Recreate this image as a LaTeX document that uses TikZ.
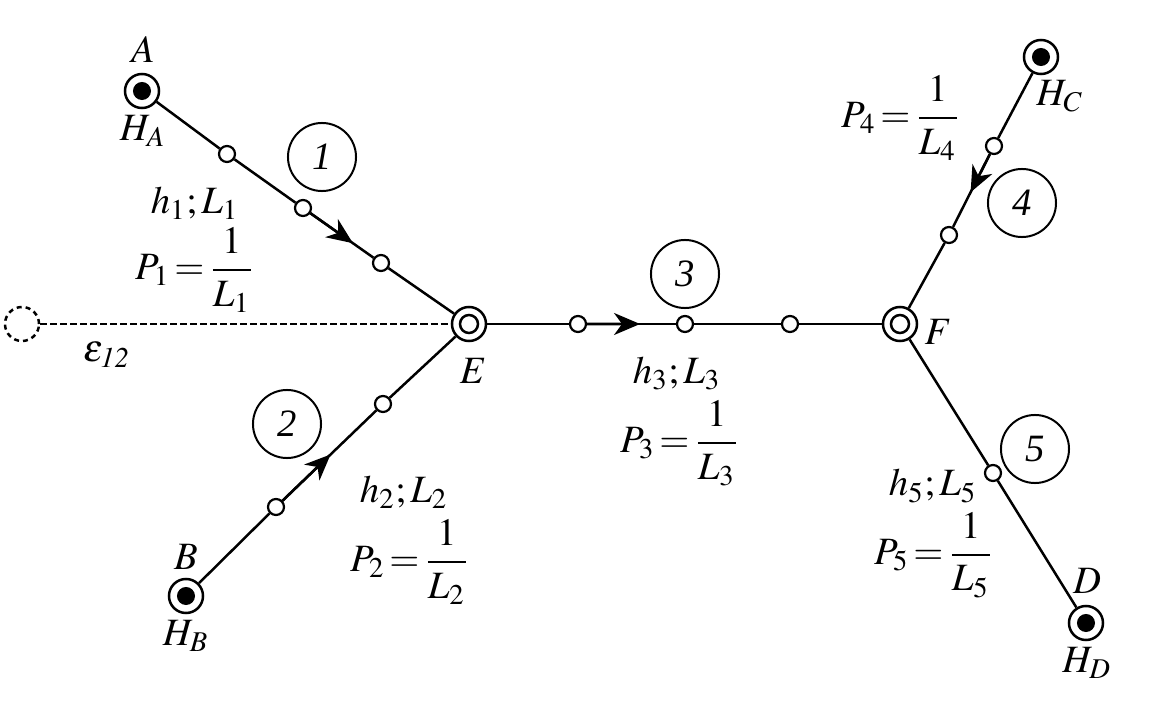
\documentclass[tikz,border=0pt]{standalone}
\usepackage{amsmath}
\usepackage{mathptmx}
\usepackage[no-math]{fontspec}
\setmainfont{Liberation Serif}
\usetikzlibrary{arrows.meta,calc}
\thickmuskip=2mu\relax
\tikzset{
  term/.style={circle,draw,line width=0.25mm,fill=white,minimum size=0.34cm,inner sep=0pt},
  termcore/.style={circle,fill=black,minimum size=0.18cm,inner sep=0pt},
  junccore/.style={circle,draw,line width=0.25mm,fill=white,minimum size=0.18cm,inner sep=0pt},
  tap/.style={circle,draw,line width=0.22mm,fill=white,minimum size=0.16cm,inner sep=0pt},
  num/.style={circle,draw,line width=0.2mm,minimum size=0.68cm,inner sep=0pt,font=\fontsize{11}{13}\selectfont\itshape},
  pipe/.style={line width=0.25mm},
  flow/.style={line width=0.25mm,-{Stealth[length=0.26cm,width=0.22cm,inset=0.08cm]}},
  lab/.style={inner sep=0pt,font=\fontsize{11}{13}\selectfont},
}
\begin{document}
\begin{tikzpicture}[x=0.01cm,y=-0.01cm]
        \useasboundingbox (0,0) rectangle (1156,709) ;
        % points of the network
        \node[term] (A) at (142,91) {} ;
        \node[term] (B) at (186,596) {} ;
        \node[term] (C) at (1041,57) {} ;
        \node[term] (D) at (1086,623) {} ;
        \node[term] (E) at (469,324) {} ;
        \node[term] (F) at (900,324) {} ;
        \node[term,dash pattern=on 0.05cm off 0.04cm] (G) at (22,324) {} ;
        \node[tap] (a1) at (227,154) {} ;
        \node[tap] (a2) at (303,208) {} ;
        \node[tap] (a3) at (381,263) {} ;
        \node[tap] (b1) at (276,507) {} ;
        \node[tap] (b2) at (383,404) {} ;
        \node[tap] (e1) at (578,324) {} ;
        \node[tap] (e2) at (685,324) {} ;
        \node[tap] (e3) at (790,324) {} ;
        \node[tap] (c1) at (994,146) {} ;
        \node[tap] (c2) at (949,235) {} ;
        \node[tap] (d1) at (993,473) {} ;
        \coordinate (arrowA) at ($(a2)!0.64!(a3)$) ;
        \coordinate (arrowB) at ($(b1)!0.51!(b2)$) ;
        \coordinate (arrowE) at ($(e1)!0.58!(e2)$) ;
        \coordinate (arrowC) at ($(c1)!0.52!(c2)$) ;
        % pipes
        \draw[pipe] (A) -- (a1) ;
        \draw[pipe] (a1) -- (a2) ;
        \draw[flow] (a2) -- (arrowA) ;
        \draw[pipe] (a2) -- (a3) ;
        \draw[pipe] (a3) -- (E) ;
        \draw[pipe] (B) -- (b1) ;
        \draw[flow] (b1) -- (arrowB) ;
        \draw[pipe] (b1) -- (b2) ;
        \draw[pipe] (b2) -- (E) ;
        \draw[pipe] (E) -- (e1) ;
        \draw[flow] (e1) -- (arrowE) ;
        \draw[pipe] (e1) -- (e2) ;
        \draw[pipe] (e2) -- (e3) ;
        \draw[pipe] (e3) -- (F) ;
        \draw[pipe] (C) -- (c1) ;
        \draw[flow] (c1) -- (arrowC) ;
        \draw[pipe] (c1) -- (c2) ;
        \draw[pipe] (c2) -- (F) ;
        \draw[pipe] (F) -- (d1) ;
        \draw[pipe] (d1) -- (D) ;
        \draw[pipe,dash pattern=on 0.07cm off 0.03cm] (G) -- (E) ;
        % centres of the end points
        \foreach \p in {A,B,C,D} \node[termcore] (\p core) at (\p) {} ;
        \foreach \p in {E,F} \node[junccore] (\p core) at (\p) {} ;
        % pipe numbers
        \node[num] (n1) at (322,157) {1} ;
        \node[num] (n2) at (287,424) {2} ;
        \node[num] (n3) at (685,274) {3} ;
        \node[num] (n4) at (1022,203) {4} ;
        \node[num] (n5) at (1035,449) {5} ;
        % letters
        \node[lab] (lA) at (143,50) {$A$} ;
        \node[lab] (lHA) at (143,131) {$H_A$} ;
        \node[lab] (lB) at (186,557) {$B$} ;
        \node[lab] (lHB) at (186,636) {$H_B$} ;
        \node[lab] (lHC) at (1060,96) {$H_C$} ;
        \node[lab] (lD) at (1087,581) {$D$} ;
        \node[lab] (lHD) at (1087,663) {$H_D$} ;
        \node[lab] (lE) at (473,371) {$E$} ;
        \node[lab] (lF) at (938,332) {$F$} ;
        \node[lab] (leps) at (107,355) {$\varepsilon_{\mathit{12}}$} ;
        % pipe data
        \node[lab] (h1) at (195,203) {$h_1;L_1$} ;
        \node[lab] (P1) at (195,270) {$P_1=\dfrac{1}{L_1}$} ;
        \node[lab] (h2) at (404,492) {$h_2;L_2$} ;
        \node[lab] (P2) at (410,562) {$P_2=\dfrac{1}{L_2}$} ;
        \node[lab] (h3) at (677,373) {$h_3;L_3$} ;
        \node[lab] (P3) at (680,443) {$P_3=\dfrac{1}{L_3}$} ;
        \node[lab] (P4) at (901,118) {$P_4=\dfrac{1}{L_4}$} ;
        \node[lab] (h5) at (933,486) {$h_5;L_5$} ;
        \node[lab] (P5) at (934,555) {$P_5=\dfrac{1}{L_5}$} ;
\end{tikzpicture}
\end{document}
